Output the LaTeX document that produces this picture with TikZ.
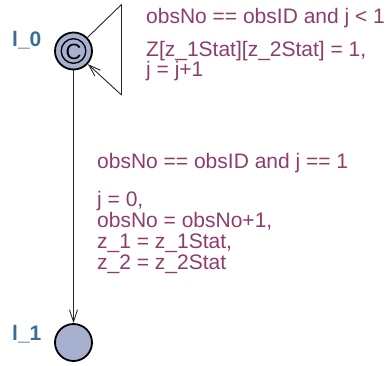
\documentclass[tikz,border=0pt]{standalone}
\usepackage{fontspec}
\setmainfont{Liberation Sans}
\usetikzlibrary{arrows.meta}
\definecolor{lblcol}{HTML}{8E3D6A}
\definecolor{namecol}{HTML}{3A6E96}
\definecolor{locfill}{HTML}{A8B0CF}
\tikzset{
  loc/.style={circle, draw=black, line width=1.8pt, fill=locfill, minimum size=37pt, inner sep=0pt},
  locname/.style={anchor=base west, inner sep=0pt, text=namecol, font=\fontsize{21}{21}\selectfont\bfseries},
  edgelbl/.style={anchor=base west, inner sep=0pt, text=lblcol, align=left},
  edge/.style={draw=black!85, line width=0.9pt, line join=round, -{Straight Barb[length=12pt, width=8pt, line width=0.9pt]}}
}
\begin{document}
\begin{tikzpicture}[x=1pt, y=-1pt]
\useasboundingbox (0,0) rectangle (389,365);
\node[loc] (l0) at (73.5,51) {};
\draw[black, line width=1.3pt] (l0.center) circle[radius=12.3pt];
\node[inner sep=0pt, font=\fontsize{22}{22}\selectfont] (c0) at (73.5,51.5) {C};
\node[loc] (l1) at (73.5,342.5) {};
\node[locname] (n0) at (12,46.5) {l\_0};
\node[locname] (n1) at (12,340) {l\_1};
\coordinate (p1) at (121.5,4.5);
\coordinate (p2) at (121.5,95);
\draw[edge] (l0) -- (p1) -- (p2) -- (l0);
\draw[edge] (l0) -- (l1);
\node[edgelbl, font=\fontsize{21}{20}\selectfont] (g1) at (146,23.5) {obsNo == obsID and j < 1};
\node[edgelbl, font=\fontsize{21}{20}\selectfont] (u1) at (146,76) {Z[z\_1Stat][z\_2Stat] = 1,\\ j = j+1};
\node[edgelbl, font=\fontsize{21}{20.8}\selectfont] (g2) at (97,168) {obsNo == obsID and j == 1};
\node[edgelbl, font=\fontsize{21}{20.8}\selectfont] (u2) at (97,269) {j = 0,\\ obsNo = obsNo+1,\\ z\_1 = z\_1Stat,\\ z\_2 = z\_2Stat};
\end{tikzpicture}
\end{document}
